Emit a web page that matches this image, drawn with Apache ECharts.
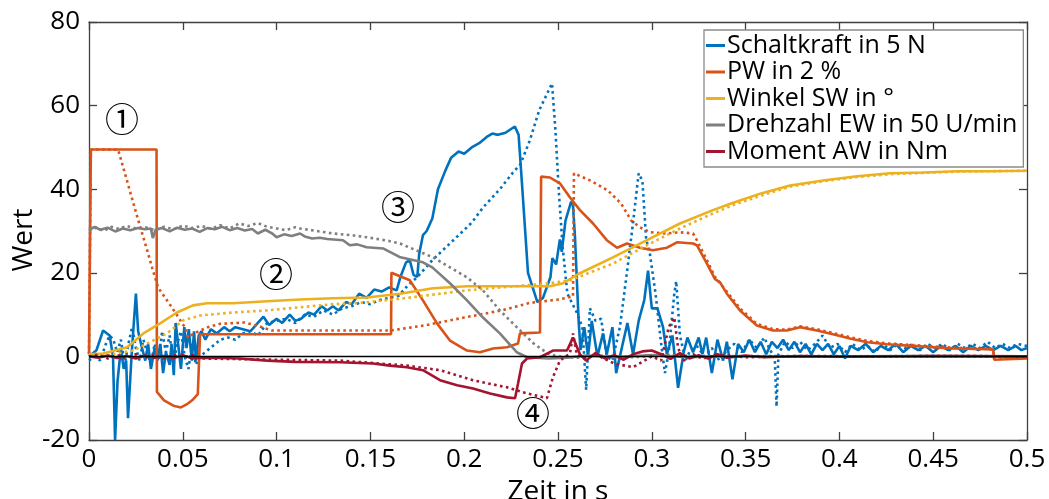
<!DOCTYPE html>
<html>
<head>
<meta charset="utf-8">
<title>Wert</title>
<script src="https://cdn.jsdelivr.net/npm/echarts@6.0.0/dist/echarts.min.js"></script>
<style>
  html, body { margin: 0; padding: 0; background: #fff; }
  #chart { width: 1049px; height: 499px; }
</style>
</head>
<body>
<div id="chart"></div>
<script>
// ---------------- data (x = Zeit in s, y = Wert) ----------------
var legendNames = ['Schaltkraft in 5 N', 'PW in 2 %', 'Winkel SW in °', 'Drehzahl EW in 50 U/min', 'Moment AW in Nm'];
var colors = ['#0072BD', '#D95319', '#EDB120', '#7F7F7F', '#A2142F'];
var xTicks = { min: 0, max: 0.5, interval: 0.05 };
var yTicks = { min: -20, max: 80, interval: 20 };

var schaltkraft = [[0,0],[0.004,1.5],[0.0075,6.2],[0.011,5],[0.0128,0],[0.0139,-20],[0.0152,-6],[0.017,2],[0.0185,-3],[0.0198,-1],[0.0208,-14.8],[0.0228,1],[0.025,15],[0.0262,6],[0.028,2.5],[0.03,-1],[0.0315,3],[0.033,-3],[0.035,2],[0.0365,-1],[0.038,3],[0.0395,-4],[0.041,1],[0.043,-2],[0.044,3],[0.0452,-4.5],[0.0462,8],[0.0475,3],[0.049,-3],[0.0508,7],[0.052,2],[0.0532,6.5],[0.0548,-1],[0.056,6],[0.057,-1],[0.0585,5],[0.06,6],[0.062,4],[0.065,6.5],[0.068,5.5],[0.072,7],[0.075,6],[0.078,7],[0.082,6.5],[0.086,6],[0.09,8],[0.093,9.5],[0.096,7.5],[0.1,9],[0.103,8],[0.107,10],[0.11,8.5],[0.113,9],[0.117,10.5],[0.12,10],[0.124,12],[0.127,11],[0.13,12],[0.133,11],[0.137,13],[0.14,12.5],[0.144,15],[0.148,14],[0.152,16],[0.156,15.5],[0.16,16.5],[0.164,15.8],[0.166,19],[0.169,22.5],[0.171,23],[0.173,19.5],[0.175,19],[0.176,24.5],[0.178,29],[0.18,30],[0.183,33],[0.186,40],[0.19,44.5],[0.193,47.5],[0.197,49],[0.2,48.5],[0.204,50],[0.208,51],[0.212,52.5],[0.215,53.3],[0.218,53],[0.222,53.5],[0.227,55],[0.229,53],[0.231,40],[0.234,20],[0.237,15.8],[0.239,13],[0.242,14],[0.244,16.5],[0.246,19],[0.247,23.5],[0.249,22],[0.251,28],[0.252,25],[0.254,32.5],[0.257,37],[0.258,36],[0.259,29],[0.261,8.5],[0.262,1.5],[0.264,7],[0.266,0],[0.268,8.5],[0.271,0],[0.274,5.5],[0.276,0.5],[0.279,7],[0.281,-4],[0.284,2],[0.287,8],[0.29,0.5],[0.293,8.5],[0.296,13.5],[0.298,20.5],[0.3,11.5],[0.303,11.5],[0.306,7],[0.308,0.5],[0.311,5],[0.314,-7.5],[0.317,1],[0.319,4.5],[0.322,1],[0.325,4.5],[0.327,0.5],[0.329,4.5],[0.332,-4],[0.335,4],[0.338,-1],[0.34,3.5],[0.343,-5.5],[0.346,3],[0.349,1],[0.352,4],[0.355,1],[0.358,3.5],[0.361,0.5],[0.364,3.5],[0.367,2],[0.37,4],[0.373,1.5],[0.376,3.5],[0.379,1],[0.382,3],[0.385,0.5],[0.388,3],[0.391,1.5],[0.394,3],[0.397,0.5],[0.4,2.5],[0.403,-0.5],[0.406,2.5],[0.41,1.5],[0.414,3],[0.418,1],[0.422,2.5],[0.426,1.5],[0.43,3],[0.434,1],[0.438,2.5],[0.442,1.5],[0.446,2.5],[0.45,1],[0.454,2.5],[0.458,1.5],[0.462,2.5],[0.466,1],[0.47,2.5],[0.474,1.5],[0.478,2.5],[0.482,1.5],[0.486,2.5],[0.49,1.5],[0.494,2.5],[0.497,1.5],[0.5,2]];
var schaltkraftSim = [[0,-1],[0.003,0],[0.006,-1],[0.009,3],[0.011,5],[0.013,4],[0.015,1],[0.017,4],[0.019,-2],[0.021,3],[0.023,7],[0.025,2],[0.027,-1],[0.029,4],[0.031,1],[0.033,-2],[0.035,3],[0.037,-1],[0.039,6],[0.041,1],[0.043,5],[0.045,-2],[0.047,3],[0.049,6],[0.051,0],[0.053,-3],[0.055,3],[0.057,-2],[0.059,0],[0.062,1],[0.066,2.5],[0.07,4],[0.074,4.5],[0.078,4],[0.082,5.5],[0.086,6],[0.09,5],[0.095,8],[0.1,8.5],[0.105,9],[0.11,8],[0.115,10],[0.12,9.5],[0.125,11],[0.13,10],[0.135,11.5],[0.14,12],[0.145,13],[0.15,12.5],[0.155,13.5],[0.16,14],[0.165,14.5],[0.17,17],[0.175,19],[0.183,23],[0.19,26],[0.198,29.4],[0.204,32],[0.21,35.6],[0.219,40],[0.226,44],[0.23,46],[0.235,51.7],[0.24,58.9],[0.2468,65.3],[0.2485,55],[0.2505,39],[0.2525,26],[0.255,15],[0.26,10.5],[0.263,7],[0.265,-8],[0.267,11.5],[0.27,8.5],[0.273,9],[0.276,0],[0.279,-1],[0.283,7],[0.287,21],[0.29,32],[0.293,43.8],[0.295,42],[0.297,28],[0.299,24.5],[0.302,15],[0.305,3],[0.307,-4],[0.309,1],[0.312,15],[0.313,18],[0.315,5],[0.318,-1],[0.32,1],[0.324,2.5],[0.328,0],[0.332,2],[0.336,-1],[0.34,1.5],[0.344,3],[0.348,1],[0.352,4],[0.356,2],[0.36,4.5],[0.363,1.5],[0.3655,0],[0.3665,-12],[0.3675,0.5],[0.371,3.5],[0.375,2],[0.379,3.5],[0.383,1.5],[0.387,3],[0.391,5],[0.395,2],[0.399,3],[0.403,1],[0.407,3],[0.411,1.5],[0.415,2.5],[0.419,1],[0.423,3],[0.427,1.5],[0.431,3],[0.435,2],[0.439,3],[0.443,1.5],[0.447,3],[0.451,2],[0.455,3],[0.459,1.5],[0.463,3],[0.467,2],[0.471,3],[0.475,2],[0.479,3.5],[0.483,2],[0.487,3],[0.491,2],[0.495,3],[0.5,2.5]];

var pw = [[0,0.5],[0.001,49.5],[0.036,49.5],[0.0362,-8.5],[0.04,-10.5],[0.045,-11.8],[0.049,-12.2],[0.052,-11.5],[0.055,-10.5],[0.058,-9],[0.0592,5.3],[0.161,5.3],[0.1612,20],[0.171,18.2],[0.178,13.4],[0.1855,7.9],[0.1924,3.8],[0.2015,1.4],[0.2084,1],[0.2154,1.9],[0.2228,2.2],[0.2287,3.1],[0.2297,5.5],[0.2404,5.7],[0.241,43],[0.2457,42.8],[0.251,41.4],[0.2564,38],[0.2617,35],[0.2687,31.8],[0.276,27.8],[0.2815,26],[0.2868,27],[0.2937,26],[0.3006,25.4],[0.3081,26],[0.3134,27.3],[0.322,27],[0.324,26.6],[0.3294,22.2],[0.3337,18.5],[0.3364,17.7],[0.34,15],[0.347,11],[0.356,7.4],[0.3646,6.2],[0.372,6.2],[0.379,7],[0.388,6.2],[0.3966,5.3],[0.4056,4.3],[0.415,3.4],[0.4254,2.9],[0.443,2.4],[0.4606,1.9],[0.4787,1.7],[0.482,1.6],[0.4825,-0.8],[0.5,-0.5]];
var pwSim = [[0,0.5],[0.001,49.5],[0.0155,49.5],[0.026,33],[0.031,25.4],[0.0336,21.3],[0.0368,16.5],[0.0442,11.7],[0.0512,6.9],[0.0528,4.5],[0.056,5.5],[0.0634,7],[0.07,7.8],[0.083,8.1],[0.09,7.3],[0.0975,6.2],[0.161,6.2],[0.18,7.5],[0.2,9.3],[0.22,11],[0.235,12.8],[0.25,13.6],[0.258,14.3],[0.2585,43.8],[0.2676,42],[0.2766,39.7],[0.2836,36.6],[0.289,32.5],[0.2937,30.9],[0.299,29.7],[0.3081,29.4],[0.315,29.7],[0.322,29.4],[0.324,27.8],[0.3294,23],[0.3337,19],[0.3364,17.5],[0.34,15.5],[0.347,11.5],[0.356,7.8],[0.3646,6.5],[0.372,6.4],[0.379,7.2],[0.388,6.5],[0.3966,5.6],[0.4056,4.6],[0.415,3.7],[0.4254,3.1],[0.443,2.6],[0.4606,2.1],[0.4787,1.8],[0.482,1.7],[0.4825,-0.5],[0.5,-0.3]];

var winkel = [[0,0.5],[0.0075,0.7],[0.0203,2.2],[0.029,5.5],[0.0379,7.9],[0.0469,10.5],[0.0554,12.2],[0.0629,12.7],[0.0768,12.7],[0.0949,13.2],[0.1125,13.6],[0.1301,13.9],[0.1482,14.1],[0.1658,15],[0.1834,16.3],[0.2015,16.8],[0.2191,16.8],[0.2457,16.8],[0.2527,17.5],[0.2617,19.9],[0.2793,23.7],[0.2974,27.8],[0.315,31.8],[0.3326,35],[0.3422,36.6],[0.3582,39],[0.3737,40.9],[0.3913,42.1],[0.4094,43.1],[0.427,43.8],[0.4446,44],[0.4627,44.3],[0.4803,44.3],[0.5,44.4]];
var winkelSim = [[0,0.3],[0.01,0.3],[0.0235,1.4],[0.0416,5.5],[0.0501,8.6],[0.0592,9.8],[0.0768,10.5],[0.0949,11],[0.13,12.5],[0.1445,12.8],[0.1658,13.8],[0.2015,15.8],[0.2457,17.5],[0.2564,18.2],[0.2793,22.2],[0.2974,26.6],[0.315,30.6],[0.3326,34.2],[0.345,36.5],[0.36,38.7],[0.3737,40.6],[0.3913,41.9],[0.4094,42.9],[0.427,43.6],[0.4446,43.9],[0.4627,44.2],[0.4803,44.3],[0.5,44.4]];

var drehzahl = [[0,30.2],[0.003,31],[0.006,30.3],[0.01,30.8],[0.014,29.9],[0.018,30.6],[0.022,30.2],[0.026,30.7],[0.03,30.4],[0.033,30.6],[0.034,28.3],[0.0355,30.3],[0.039,30.7],[0.043,29.9],[0.047,30.8],[0.051,30.3],[0.055,30.6],[0.059,29.8],[0.063,30.7],[0.067,30.4],[0.071,31],[0.075,30.2],[0.079,30.7],[0.083,30.1],[0.087,30.5],[0.09,29.4],[0.094,30.3],[0.098,29.3],[0.1,28.5],[0.104,29.2],[0.108,28.8],[0.1125,29.4],[0.115,28.7],[0.119,28.2],[0.123,28.4],[0.127,28.1],[0.1354,27.8],[0.139,26.6],[0.143,26.8],[0.148,26.1],[0.157,25.8],[0.166,23.7],[0.178,22.5],[0.183,21.3],[0.1924,17.5],[0.2015,13.4],[0.21,9.3],[0.219,5.5],[0.228,1],[0.2335,-0.2],[0.245,-0.5],[0.255,-0.3],[0.265,0.2],[0.28,-0.2],[0.3,0.3],[0.32,-0.2],[0.34,0.1],[0.37,-0.1],[0.4,0],[0.45,0.1],[0.5,0]];
var drehzahlSim = [[0,30],[0.004,30.8],[0.008,30],[0.012,31],[0.016,30.5],[0.02,31.2],[0.025,30.6],[0.03,30.9],[0.035,30.2],[0.04,31],[0.045,30.4],[0.05,31.3],[0.055,30.7],[0.06,31.2],[0.065,30.5],[0.07,31.4],[0.075,30.6],[0.08,31.8],[0.085,31.2],[0.09,31.9],[0.095,31],[0.1,30.6],[0.105,30.2],[0.11,30.9],[0.1125,30.6],[0.12,30.1],[0.1301,29.4],[0.14,29],[0.1482,28.5],[0.16,27.6],[0.1658,27],[0.1834,23.7],[0.1924,21.3],[0.2015,18.9],[0.21,15.8],[0.219,11],[0.228,7],[0.237,3.1],[0.2445,0.7],[0.25,0],[0.26,-0.3],[0.27,0.2],[0.29,-0.2],[0.31,0.3],[0.33,-0.1],[0.36,0.1],[0.4,0],[0.45,0.1],[0.5,0]];

var moment = [[0,0],[0.005,-0.3],[0.01,0.2],[0.015,-0.4],[0.02,0.1],[0.025,-0.5],[0.03,0.2],[0.035,-0.3],[0.04,0.1],[0.045,-0.4],[0.05,0.3],[0.055,-0.5],[0.06,-0.3],[0.07,-0.4],[0.08,-0.5],[0.095,-1],[0.11,-1.3],[0.1338,-1.4],[0.1514,-1.7],[0.1604,-2.2],[0.1695,-2.6],[0.178,-3.3],[0.1871,-5.7],[0.1962,-6.9],[0.2047,-7.7],[0.2138,-8.9],[0.2228,-9.8],[0.2271,-10],[0.2287,-6.5],[0.2308,-1.7],[0.2335,-0.5],[0.2404,-0.2],[0.2473,1.4],[0.2548,1.4],[0.258,4.5],[0.2617,0.5],[0.265,-1],[0.27,0.8],[0.275,-0.5],[0.28,0.3],[0.285,-0.8],[0.29,0.5],[0.295,1.2],[0.3,1.4],[0.305,0.5],[0.31,-0.6],[0.315,0.8],[0.32,-0.5],[0.325,0.3],[0.33,-0.5],[0.335,0.5],[0.34,-0.3],[0.35,0.2],[0.36,-0.2],[0.38,0.1],[0.4,-0.1],[0.45,0.1],[0.5,0]];
var momentSim = [[0,0],[0.005,0.4],[0.01,-0.5],[0.015,0.3],[0.02,-0.4],[0.025,0.5],[0.03,-0.3],[0.035,0.4],[0.04,-0.5],[0.045,0.3],[0.05,-0.4],[0.055,0.3],[0.06,-0.5],[0.1,-0.8],[0.1338,-1],[0.1695,-2.2],[0.1871,-3.3],[0.2047,-5.7],[0.2228,-7.4],[0.2314,-8.6],[0.2441,-10],[0.2473,-5],[0.251,-1],[0.2564,0.7],[0.258,5.5],[0.26,0.5],[0.265,-0.5],[0.27,0.5],[0.28,-1.7],[0.29,-2.6],[0.3,0],[0.305,-1],[0.309,7],[0.312,9.3],[0.314,2],[0.317,-1],[0.322,0.5],[0.327,-0.5],[0.335,0.3],[0.35,-0.2],[0.38,0.1],[0.42,0],[0.46,0.1],[0.5,0]];

// ---------------- chart ----------------
var fontFamily = '"Open Sans", "DejaVu Sans", sans-serif';
var circleFont = '"Noto Sans CJK JP", "DejaVu Sans", sans-serif';
var axisColor = '#404040';

function lineSeries(name, data, color, dotted) {
  return {
    name: name,
    type: 'line',
    data: data,
    showSymbol: false,
    symbol: 'none',
    silent: true,
    lineStyle: {
      color: color,
      width: 2.6,
      type: dotted ? [2.6, 3.4] : 'solid'
    },
    itemStyle: { color: color }
  };
}

var series = [
  lineSeries(legendNames[0], schaltkraft, colors[0], false),
  lineSeries(legendNames[0] + ' (Sim)', schaltkraftSim, colors[0], true),
  lineSeries(legendNames[1], pw, colors[1], false),
  lineSeries(legendNames[1] + ' (Sim)', pwSim, colors[1], true),
  lineSeries(legendNames[2], winkel, colors[2], false),
  lineSeries(legendNames[2] + ' (Sim)', winkelSim, colors[2], true),
  lineSeries(legendNames[3], drehzahl, colors[3], false),
  lineSeries(legendNames[3] + ' (Sim)', drehzahlSim, colors[3], true),
  lineSeries(legendNames[4], moment, colors[4], false),
  lineSeries(legendNames[4] + ' (Sim)', momentSim, colors[4], true)
];
// black zero line
series[9].markLine = {
  silent: true,
  symbol: ['none', 'none'],
  label: { show: false },
  lineStyle: { color: '#000', width: 1.3, type: 'solid' },
  data: [{ yAxis: 0 }]
};

function axisBase(extra) {
  var a = {
    type: 'value',
    axisLine: { show: true, onZero: false, lineStyle: { color: axisColor, width: 1.3 } },
    axisTick: { show: true, inside: true, length: 8, lineStyle: { color: axisColor, width: 1.3 } },
    splitLine: { show: false }
  };
  for (var k in extra) a[k] = extra[k];
  return a;
}

function circled(txt, x, y) {
  return { type: 'text', x: x, y: y, style: { text: txt, fontSize: 34, fontFamily: circleFont, fill: '#000', align: 'center', verticalAlign: 'middle' } };
}

var option = {
  animation: false,
  backgroundColor: '#fff',
  grid: { left: 89, right: 22, top: 22, bottom: 59, containLabel: false, outerBoundsMode: 'none' },
  legend: {
    data: legendNames,
    orient: 'vertical',
    left: 704,
    top: 30,
    icon: 'rect',
    itemWidth: 19,
    itemHeight: 3,
    itemGap: 1.5,
    padding: [3, 6, 3, 2],
    backgroundColor: '#fff',
    borderColor: '#8a8a8a',
    borderWidth: 1.3,
    borderRadius: 0,
    textStyle: { color: '#000', fontSize: 25, lineHeight: 24, fontFamily: fontFamily, padding: [0, 0, 0, -3] }
  },
  xAxis: [
    axisBase({
      min: xTicks.min, max: xTicks.max, interval: xTicks.interval,
      position: 'bottom',
      name: 'Zeit in s', nameLocation: 'middle', nameGap: 31,
      nameTextStyle: { color: '#000', fontSize: 28, fontFamily: fontFamily },
      axisLabel: { show: true, margin: 7, color: '#000', fontSize: 26, fontFamily: fontFamily }
    }),
    axisBase({
      min: xTicks.min, max: xTicks.max, interval: xTicks.interval,
      position: 'top', axisLabel: { show: false }
    })
  ],
  yAxis: [
    axisBase({
      min: yTicks.min, max: yTicks.max, interval: yTicks.interval,
      position: 'left',
      axisLabel: { show: true, margin: 9, color: '#000', fontSize: 26, fontFamily: fontFamily }
    }),
    axisBase({
      min: yTicks.min, max: yTicks.max, interval: yTicks.interval,
      position: 'right', axisLabel: { show: false }
    })
  ],
  series: series,
  graphic: [
    // y-axis title
    { type: 'text', x: 24, y: 240, rotation: Math.PI / 2, style: { text: 'Wert', fontSize: 28, fontFamily: fontFamily, fill: '#000', align: 'center', verticalAlign: 'middle' } },
    circled('\u2460', 122, 119),
    circled('\u2461', 276, 274),
    circled('\u2462', 398, 207),
    circled('\u2463', 533, 413)
  ]
};

var mychart = echarts.init(document.getElementById('chart'), null, { renderer: 'canvas' });
mychart.setOption(option);
</script>
</body>
</html>
